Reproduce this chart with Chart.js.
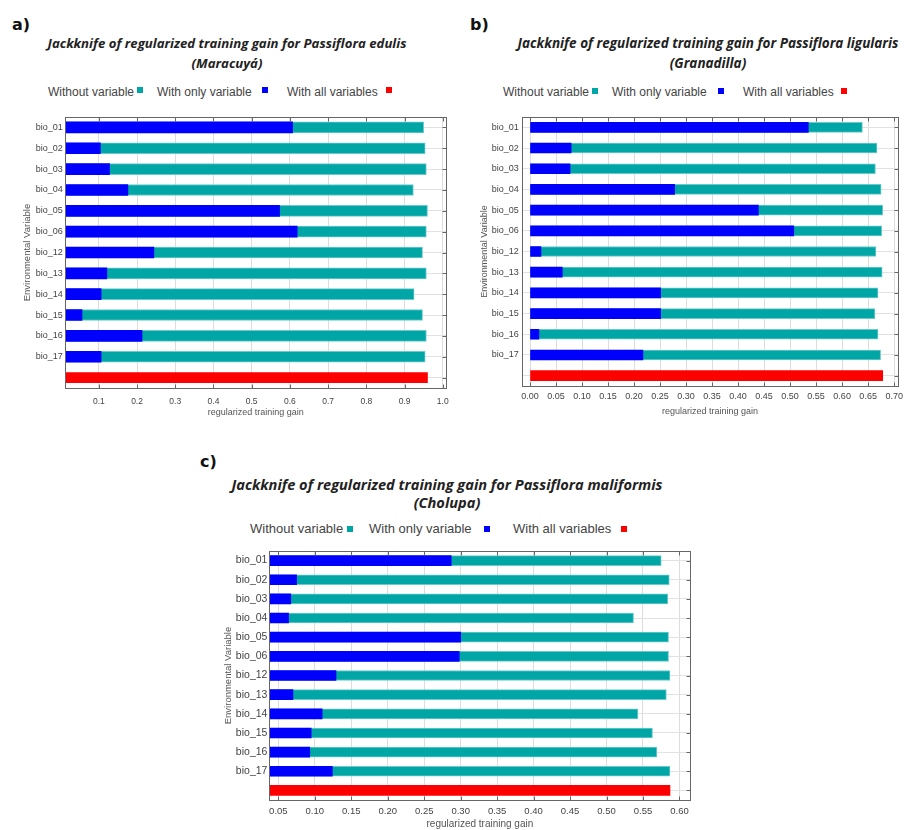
<!DOCTYPE html>
<html>
<head>
<meta charset="utf-8">
<script src="https://cdn.jsdelivr.net/npm/chart.js@4.4.0/dist/chart.umd.min.js"></script>
<style>
  body { margin: 0; width: 904px; height: 830px; background: #fff; position: relative; overflow: hidden; font-family: 'Liberation Sans', Arial, sans-serif; }
  .panel { position: absolute; font-family: 'DejaVu Sans', sans-serif; font-weight: bold; font-size: 16px; line-height: 16px; color: #111; }
  .title { position: absolute; transform: translateX(-50%); text-align: center; white-space: nowrap; font-family: 'Open Sans', sans-serif; font-weight: 700; font-style: italic; font-size: 13px; line-height: 20px; color: #222; }
  .leg { position: absolute; white-space: nowrap; font-size: 12px; line-height: 14px; color: #444; }
  .leg.big { font-size: 13px; }
  .sq { position: absolute; width: 6px; height: 6px; }
  .teal { background: #00a6a6; }
  .blue { background: #0000ff; }
  .red { background: #ff0000; }
  canvas { position: absolute; }
</style>
</head>
<body>

<div class="panel" style="left:12px; top:17px;">a)</div>
<div class="title" style="left:227px; top:33px; font-size:13.2px;">Jackknife of regularized training gain for Passiflora edulis<br>(Maracuyá)</div>
<span class="leg" style="left:48px; top:85px;">Without variable</span><span class="sq teal" style="left:137px; top:87px;"></span>
<span class="leg" style="left:157px; top:85px;">With only variable</span><span class="sq blue" style="left:262px; top:87px;"></span>
<span class="leg" style="left:287px; top:85px;">With all variables</span><span class="sq red" style="left:386px; top:87px;"></span>
<canvas id="chartA" width="440" height="315" style="left:20px; top:105px;"></canvas>

<div class="panel" style="left:470px; top:17px;">b)</div>
<div class="title" style="left:708px; top:33px; font-size:13.5px;">Jackknife of regularized training gain for Passiflora ligularis<br>(Granadilla)</div>
<span class="leg" style="left:503px; top:85px;">Without variable</span><span class="sq teal" style="left:592px; top:88px;"></span>
<span class="leg" style="left:612px; top:85px;">With only variable</span><span class="sq blue" style="left:718px; top:88px;"></span>
<span class="leg" style="left:743px; top:85px;">With all variables</span><span class="sq red" style="left:841px; top:88px;"></span>
<canvas id="chartB" width="427" height="315" style="left:477px; top:105px;"></canvas>

<div class="panel" style="left:200px; top:454px;">c)</div>
<div class="title" style="left:447px; top:475px; line-height:18px; font-size:14.6px;">Jackknife of regularized training gain for Passiflora maliformis<br>(Cholupa)</div>
<span class="leg big" style="left:250px; top:522px;">Without variable</span><span class="sq teal" style="left:347px; top:526px;"></span>
<span class="leg big" style="left:369px; top:522px;">With only variable</span><span class="sq blue" style="left:484px; top:526px;"></span>
<span class="leg big" style="left:513px; top:522px;">With all variables</span><span class="sq red" style="left:621px; top:526px;"></span>
<canvas id="chartC" width="480" height="290" style="left:221px; top:540px;"></canvas>

<script>
// variables tested in the jackknife
const variables = ['bio_01', 'bio_02', 'bio_03', 'bio_04', 'bio_05', 'bio_06',
                   'bio_12', 'bio_13', 'bio_14', 'bio_15', 'bio_16', 'bio_17'];

// a) Passiflora edulis
const edulisWithout = [0.950, 0.954, 0.957, 0.923, 0.960, 0.957, 0.947, 0.957, 0.925, 0.947, 0.957, 0.954];
const edulisOnly    = [0.607, 0.104, 0.128, 0.176, 0.573, 0.619, 0.244, 0.121, 0.106, 0.056, 0.213, 0.106];
const edulisAll = 0.960;

// b) Passiflora ligularis
const ligularisWithout = [0.639, 0.667, 0.664, 0.675, 0.678, 0.676, 0.665, 0.677, 0.669, 0.663, 0.669, 0.674];
const ligularisOnly    = [0.535, 0.079, 0.077, 0.278, 0.439, 0.507, 0.021, 0.062, 0.251, 0.251, 0.017, 0.217];
const ligularisAll = 0.678;

// c) Passiflora maliformis
const maliformisWithout = [0.575, 0.586, 0.584, 0.537, 0.585, 0.585, 0.587, 0.582, 0.543, 0.563, 0.569, 0.587];
const maliformisOnly    = [0.287, 0.075, 0.067, 0.064, 0.300, 0.298, 0.129, 0.070, 0.110, 0.095, 0.093, 0.124];
const maliformisAll = 0.587;

const TEAL = '#00a6a6';
const BLUE = '#0000ff';
const RED = '#ff0000';

// box around the plot with small inner tick marks, like the maxent output
const frame = {
    id: 'frame',
    afterDraw(chart) {
        const { ctx, chartArea: a, scales } = chart;
        const l = Math.round(a.left) + 0.5, r = Math.round(a.right) + 0.5;
        const t = Math.round(a.top) + 0.5, b = Math.round(a.bottom) + 0.5;
        ctx.save();
        ctx.strokeStyle = '#666';
        ctx.lineWidth = 1;
        ctx.beginPath();
        scales.x.ticks.forEach(tk => {
            const x = Math.round(scales.x.getPixelForValue(tk.value)) + 0.5;
            ctx.moveTo(x, t); ctx.lineTo(x, t + 4);
            ctx.moveTo(x, b); ctx.lineTo(x, b - 4);
        });
        scales.y.ticks.forEach((tk, i) => {
            const y = Math.round(scales.y.getPixelForTick(i)) + 0.5;
            ctx.moveTo(r, y); ctx.lineTo(r - 4, y);
        });
        ctx.stroke();
        ctx.strokeRect(l, t, r - l, b - t);
        ctx.restore();
    }
};

function jackknife(id, without, only, all, o) {
    const labels = variables.concat(['']);
    const empty = variables.map(() => null);
    new Chart(document.getElementById(id), {
        type: 'bar',
        data: {
            labels: labels,
            datasets: [
                { label: 'Without variable', data: without.concat([null]), backgroundColor: TEAL,
                  borderColor: '#6ccaca', borderWidth: 1, barThickness: o.bar, grouped: false, order: 1 },
                { label: 'With only variable', data: only.concat([null]), backgroundColor: BLUE,
                  barThickness: o.bar, grouped: false, order: 0 },
                { label: 'With all variables', data: empty.concat([all]), backgroundColor: RED,
                  barThickness: 10, grouped: false, order: 0 }
            ]
        },
        options: {
            indexAxis: 'y',
            responsive: false,
            animation: false,
            layout: { padding: { top: o.top, right: o.right, left: 0, bottom: 0 } },
            plugins: { legend: { display: false }, tooltip: { enabled: false } },
            scales: {
                x: {
                    type: 'linear',
                    min: o.min,
                    max: o.max,
                    ticks: {
                        stepSize: o.step, includeBounds: false, maxTicksLimit: 20, autoSkip: false,
                        maxRotation: 0, padding: o.xPad, color: '#444',
                        font: { family: 'Liberation Sans', size: o.xFont },
                        callback: v => v.toFixed(o.digits)
                    },
                    grid: { color: '#dddddd', drawTicks: false },
                    border: { display: false },
                    title: {
                        display: true, text: 'regularized training gain', color: '#555',
                        font: { family: 'Liberation Sans', size: o.xTitle },
                        padding: { top: 0, bottom: o.xTitlePad }
                    },
                    afterFit: s => { s.height = o.xHeight; s.paddingLeft = 0; s.paddingRight = 0; }
                },
                y: {
                    ticks: { padding: o.yPad, color: '#444', font: { family: 'Liberation Sans', size: o.yFont } },
                    grid: { offset: false, color: '#e2e2e2', drawTicks: false },
                    border: { display: false },
                    title: {
                        display: true, text: 'Environmental Variable', color: '#555',
                        font: { family: 'Liberation Sans', size: o.yTitle },
                        padding: { top: 2, bottom: 2 }
                    },
                    afterFit: s => { s.width = o.yWidth; s.paddingTop = 0; s.paddingBottom = 0; }
                }
            }
        },
        plugins: [frame]
    });
}

jackknife('chartA', edulisWithout, edulisOnly, edulisAll, {
    min: 0.012, max: 1.009, step: 0.1, digits: 1, bar: 11,
    top: 12, right: 13.8, yWidth: 45.2, xHeight: 32,
    xFont: 8.5, xPad: 8.6, xTitle: 9, xTitlePad: 2, yFont: 9, yPad: 2.5, yTitle: 9.5
});

jackknife('chartB', ligularisWithout, ligularisOnly, ligularisAll, {
    min: -0.016, max: 0.708, step: 0.05, digits: 2, bar: 10,
    top: 12, right: 5.7, yWidth: 44.7, xHeight: 34,
    xFont: 9, xPad: 5.3, xTitle: 9, xTitlePad: 2.9, yFont: 9, yPad: 3, yTitle: 9
});

jackknife('chartC', maliformisWithout, maliformisOnly, maliformisAll, {
    min: 0.0377, max: 0.615, step: 0.05, digits: 2, bar: 10,
    top: 11, right: 10.6, yWidth: 48.4, xHeight: 30,
    xFont: 9.5, xPad: 6, xTitle: 10, xTitlePad: 0, yFont: 10.5, yPad: 2, yTitle: 9.5
});
</script>
</body>
</html>
